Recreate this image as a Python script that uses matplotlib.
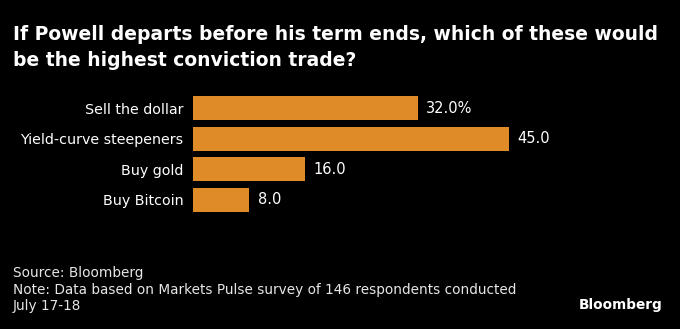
import matplotlib
matplotlib.use('Agg')
from matplotlib import pyplot as plt

# 数据
categories = ['Sell the dollar', 'Yield-curve steepeners', 'Buy gold', 'Buy Bitcoin']
values = [32.0, 45.0, 16.0, 8.0]
value_labels = ['32.0%', '45.0', '16.0', '8.0']

title = 'If Powell departs before his term ends, which of these would\nbe the highest conviction trade?'
source = 'Source: Bloomberg'
note = 'Note: Data based on Markets Pulse survey of 146 respondents conducted\nJuly 17-18'

bar_color = '#DE8B28'
plt.rcParams['font.family'] = ['DejaVu Sans']

W, H = 680, 329
fig = plt.figure(figsize=(W / 100, H / 100), dpi=100, facecolor='black')

# 坐标轴位置 (像素换算)
ax = fig.add_axes([193 / W, 1 - 215.3 / H, 316 / W, 122.6 / H])
ax.set_facecolor('black')
ypos = list(range(len(categories)))
ax.barh(ypos, values, height=0.78, color=bar_color)
ax.set_xlim(0, 45)
ax.set_ylim(len(categories) - 0.5, -0.5)
ax.set_yticks(ypos)
ax.set_yticklabels(categories, color='white', fontsize=10.3)
ax.tick_params(axis='y', length=0, pad=7)
ax.set_xticks([])
for s in ax.spines.values():
    s.set_visible(False)

# 数值标签
for y, v, lab in zip(ypos, values, value_labels):
    ax.text(v + 1.2, y, lab, va='center', ha='left', color='white',
            fontsize=10.5, clip_on=False)

# 标题与脚注
fig.text(13 / W, 1 - 25 / H, title, ha='left', va='top', color='white',
         fontsize=13.5, fontweight='bold', linespacing=1.5)
fig.text(13 / W, 1 - 266 / H, source, ha='left', va='top', color='#e6e6e6',
         fontsize=9.8)
fig.text(13 / W, 1 - 283 / H, note, ha='left', va='top', color='#e6e6e6',
         fontsize=9.8, linespacing=1.2)
fig.text(663 / W, 1 - 305 / H, 'Bloomberg', ha='right', va='center', color='white',
         fontsize=9.8, fontweight='bold')

fig.savefig('out.png', dpi=100, facecolor='black')
